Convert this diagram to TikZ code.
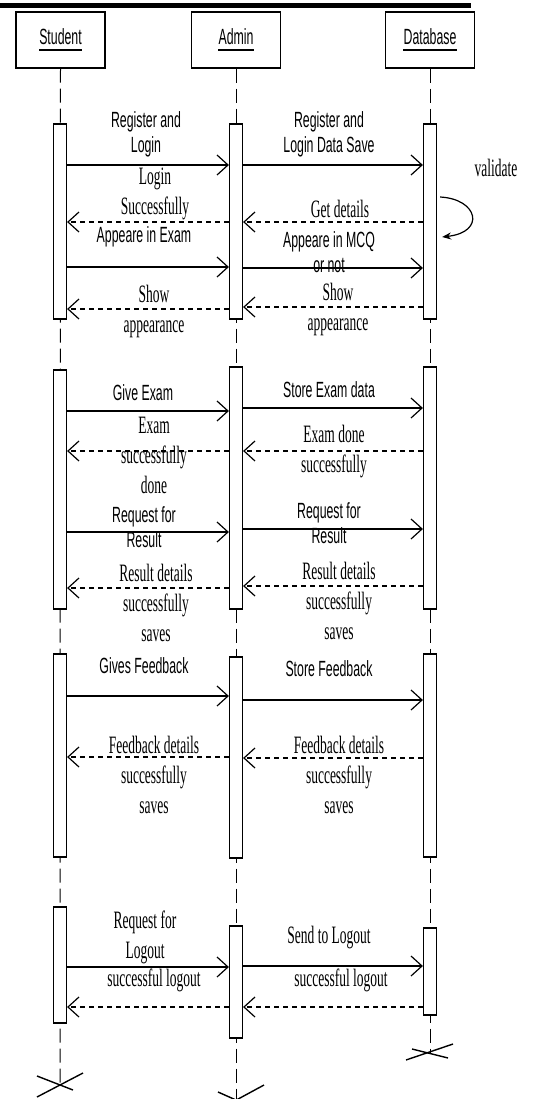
\documentclass[tikz,border=0pt]{standalone}
\usepackage{fontspec}
\newfontfamily\nsans[FakeStretch=0.56]{Liberation Sans}
\newfontfamily\nserif[FakeStretch=0.54]{Liberation Serif}
\usetikzlibrary{arrows.meta}
\begin{document}
\begin{tikzpicture}[x=1pt,y=-1pt,
  lbls/.style={font=\nsans\fontsize{22}{25}\selectfont, align=center, inner sep=0pt},
  lblr/.style={font=\nserif\fontsize{25}{30}\selectfont, align=center, inner sep=0pt},
  actor/.style={draw, line width=1.3pt, minimum width=89pt, minimum height=56pt, inner sep=0pt},
  bar/.style={draw, fill=white, line width=1.2pt, minimum width=13pt, inner sep=0pt},
  life/.style={line width=1pt, dash pattern=on 14pt off 6pt},
  call/.style={line width=1.4pt, -{Straight Barb[length=11pt,width=20pt,line width=1.2pt]}},
  reply/.style={call, dash pattern=on 5pt off 4pt},
  cross/.style={line width=1.4pt},
  uline/.style={line width=2pt},
]
\useasboundingbox (0,0) rectangle (537,1099);
\fill (0,3.5) rectangle (471,8);

% actors
\node[actor] (stu) at (60.5,40) {};
\node[actor] (adm) at (236,40) {};
\node[actor] (dbs) at (430,40) {};
\node[lbls] (stut) at (60.5,37) {Student};
\node[lbls] (admt) at (236,37) {Admin};
\node[lbls] (dbst) at (430,37) {Database};
\draw[uline] ([yshift=-5pt]stut.south west) -- ([yshift=-5pt]stut.south east);
\draw[uline] ([yshift=-5pt]admt.south west) -- ([yshift=-5pt]admt.south east);
\draw[uline] ([yshift=-5pt]dbst.south west) -- ([yshift=-5pt]dbst.south east);

% destruction points
\coordinate (sx) at (60,1084);
\coordinate (ax) at (236,1100);
\coordinate (dx) at (430,1053);

% lifelines
\draw[life] (stu.south) -- (sx);
\draw[life] (adm.south) -- (ax);
\draw[life] (dbs.south) -- (dx);

% activation bars
\node[bar, minimum height=195pt] (s1) at (60,221.5) {};
\node[bar, minimum height=195pt] (a1) at (236,221.5) {};
\node[bar, minimum height=195pt] (d1) at (430,221.5) {};
\node[bar, minimum height=239pt] (s2) at (60,489.5) {};
\node[bar, minimum height=242pt] (a2) at (236,488) {};
\node[bar, minimum height=242pt] (d2) at (430,488) {};
\node[bar, minimum height=203pt] (s3) at (60,755.5) {};
\node[bar, minimum height=201pt] (a3) at (236,757.5) {};
\node[bar, minimum height=203pt] (d3) at (430,755.5) {};
\node[bar, minimum height=116pt] (s4) at (60,965) {};
\node[bar, minimum height=112pt] (a4) at (236,982) {};
\node[bar, minimum height=87pt] (d4) at (430,971.5) {};

% crosses
\draw[cross] (sx) ++(-23,-8) -- ++(36,14);
\draw[cross] (sx) ++(23,-11) -- ++(-46,24);
\draw[cross] (ax) ++(-18,-8) -- ++(36,16);
\draw[cross] (ax) ++(28,-15) -- ++(-48,26);
\draw[cross] (dx) ++(-24,7) -- ++(47,-16);
\draw[cross] (dx) ++(-18,-4) -- ++(36,9);

% section 1
\draw[call] (s1.east |- 0,165) -- (a1.west |- 0,165);
\draw[call] (a1.east |- 0,165) -- (d1.west |- 0,165);
\draw[reply] (a1.west |- 0,222) -- (s1.east |- 0,222);
\draw[reply] (d1.west |- 0,222) -- (a1.east |- 0,222);
\draw[call] (s1.east |- 0,267) -- (a1.west |- 0,267);
\draw[call] (a1.east |- 0,268) -- (d1.west |- 0,268);
\draw[reply] (a1.west |- 0,309) -- (s1.east |- 0,309);
\draw[reply] (d1.west |- 0,307) -- (a1.east |- 0,307);
\draw[line width=1.2pt, -{Stealth[length=9pt,width=7pt]}]
  ([xshift=3pt]d1.east |- 0,197) .. controls (478,199) and (486,232) .. ([xshift=5pt]d1.east |- 0,237);

\node[lbls] (l1) at (146,134) {Register and\\Login};
\node[lbls] (l2) at (329,134) {Register and\\Login Data Save};
\node[lblr] (l3) at (496,168) {validate};
\node[lblr] (l4) at (155,194) {Login\\Successfully};
\node[lblr] (l5) at (340,209) {Get details};
\node[lbls] (l6) at (144,237) {Appeare in Exam};
\node[lbls] (l7) at (329,252) {Appeare in MCQ\\or not};
\node[lblr] (l8) at (154,311) {Show\\appearance};
\node[lblr] (l9) at (338,309) {Show\\appearance};

% section 2
\draw[call] (s2.east |- 0,411) -- (a2.west |- 0,411);
\draw[call] (a2.east |- 0,408) -- (d2.west |- 0,408);
\draw[reply] (a2.west |- 0,451) -- (s2.east |- 0,451);
\draw[reply] (d2.west |- 0,451) -- (a2.east |- 0,451);
\draw[call] (s2.east |- 0,532) -- (a2.west |- 0,532);
\draw[call] (a2.east |- 0,529) -- (d2.west |- 0,529);
\draw[reply] (a2.west |- 0,588) -- (s2.east |- 0,588);
\draw[reply] (d2.west |- 0,586) -- (a2.east |- 0,586);

\node[lbls] (l10) at (143,393) {Give Exam};
\node[lbls] (l11) at (329,390) {Store Exam data};
\node[lblr] (l12) at (154,455) {Exam\\successfully\\done};
\node[lblr] (l13) at (334,452) {Exam done\\successfully};
\node[lbls] (l14) at (144,527) {Request for\\Result};
\node[lbls] (l15) at (329,523) {Request for\\Result};
\node[lblr] (l16) at (156,603) {Result details\\successfully\\saves};
\node[lblr] (l17) at (339,601) {Result details\\successfully\\saves};

% section 3
\draw[call] (s3.east |- 0,696) -- (a3.west |- 0,696);
\draw[call] (a3.east |- 0,700) -- (d3.west |- 0,700);
\draw[reply] (a3.west |- 0,757) -- (s3.east |- 0,757);
\draw[reply] (d3.west |- 0,758) -- (a3.east |- 0,758);

\node[lbls] (l18) at (144,666) {Gives Feedback};
\node[lbls] (l19) at (329,669) {Store Feedback};
\node[lblr] (l20) at (154,775) {Feedback details\\successfully\\saves};
\node[lblr] (l21) at (339,775) {Feedback details\\successfully\\saves};

% section 4
\draw[call] (s4.east |- 0,967) -- (a4.west |- 0,967);
\draw[call] (a4.east |- 0,966) -- (d4.west |- 0,966);
\draw[reply] (a4.west |- 0,1007) -- (s4.east |- 0,1007);
\draw[reply] (d4.west |- 0,1007) -- (a4.east |- 0,1007);

\node[lblr] (l22) at (145,937) {Request for\\Logout};
\node[lblr] (l23) at (154,980) {successful logout};
\node[lblr] (l24) at (329,938) {Send to Logout};
\node[lblr] (l25) at (341,980) {successful logout};
\end{tikzpicture}
\end{document}
